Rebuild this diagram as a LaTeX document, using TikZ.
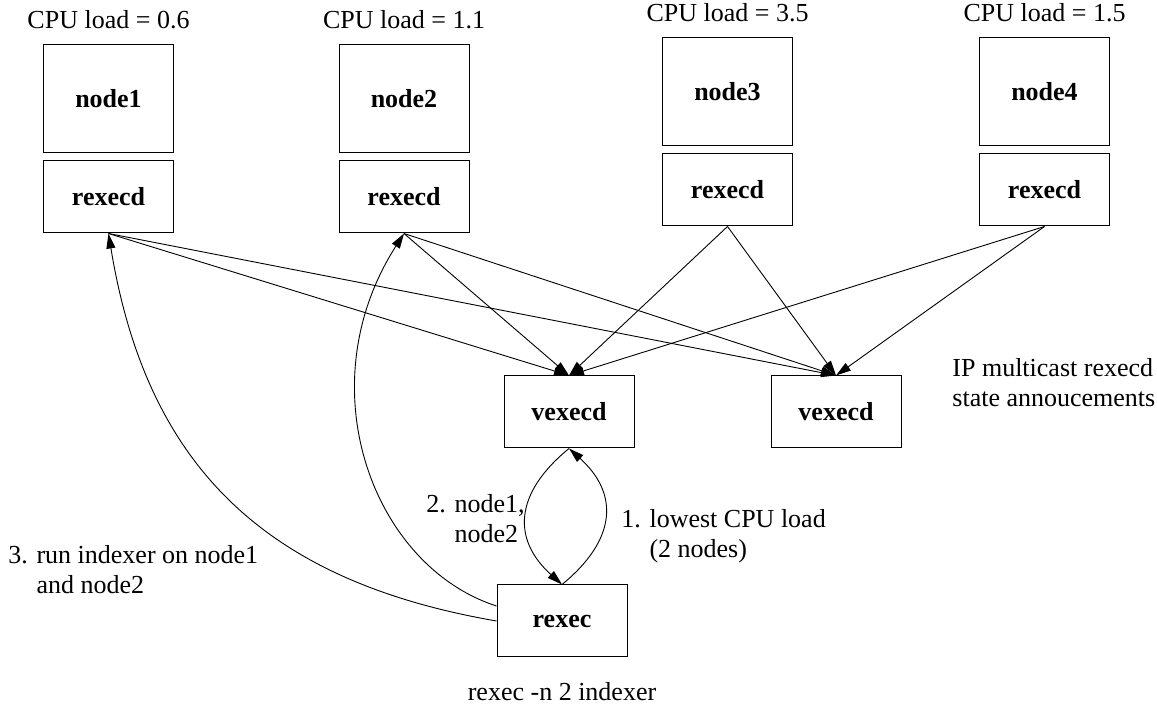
\documentclass[tikz,border=0pt]{standalone}
\usepackage{fontspec}
\setmainfont{Liberation Serif}
\usetikzlibrary{positioning}
\usetikzlibrary{arrows.meta}

\begin{document}
\begin{tikzpicture}
[x=0.5pt,y=-0.5pt,%
  box/.style={draw,line width=0.5pt,minimum width=65pt,minimum height=36pt,font=\bfseries},%
  host/.style={box,minimum height=54pt},%
  txt/.style={inner sep=0pt,align=left},%
  arr/.style={-{Triangle[length=7.5pt,width=4.5pt]},line width=0.45pt}]
\fontsize{13}{15}\selectfont
\useasboundingbox (0,0) rectangle (1157,704);
\node[host] (n1) at (108.5,99) {node1};
\node[host] (n2) at (404,99) {node2};
\node[host] (n3) at (727.5,92) {node3};
\node[host] (n4) at (1044.5,92) {node4};
\node[box,below=3.5pt of n1] (r1) {rexecd};
\node[box,below=3.5pt of n2] (r2) {rexecd};
\node[box,below=3.5pt of n3] (r3) {rexecd};
\node[box,below=3.5pt of n4] (r4) {rexecd};
\node[txt,above=7.5pt of n1] (l1) {CPU load = 0.6};
\node[txt,above=7.5pt of n2] (l2) {CPU load = 1.1};
\node[txt,above=7.5pt of n3] (l3) {CPU load = 3.5};
\node[txt,above=7.5pt of n4] (l4) {CPU load = 1.5};
\node[box] (v1) at (569,412) {vexecd};
\node[box] (v2) at (836,412) {vexecd};
\node[box] (rexec) at (562,621) {rexec};
\node[txt] (cmd) at (562,692) {rexec -n 2 indexer};
\node[txt,anchor=west] (mcast) at (952,383) {IP multicast rexecd\\state annoucements};
\node[txt,anchor=west] (step1) at (621,536) {1. lowest CPU load\\\phantom{1. }(2 nodes)};
\node[txt,anchor=west] (step2) at (426,519) {2. node1,\\\phantom{2. }node2};
\node[txt,anchor=west] (step3) at (8,570) {3. run indexer on node1\\\phantom{3. }and node2};
\foreach \s in {r1,r2,r3,r4}
  \foreach \t in {v1,v2}
    \draw[arr] (\s.south) -- (\t.north);
\draw[arr] (rexec.north) .. controls +(55,-45) and +(50,45) .. (v1.south);
\draw[arr] (v1.south) .. controls +(-55,45) and +(-50,-45) .. (rexec.north);
\draw[arr] ([yshift=7.5pt]rexec.west) .. controls +(-124,-40) and +(-98,153) .. (r2.south);
\draw[arr] (rexec.west) .. controls +(-232,-40) and +(38,232) .. (r1.south);
\end{tikzpicture}
\end{document}
